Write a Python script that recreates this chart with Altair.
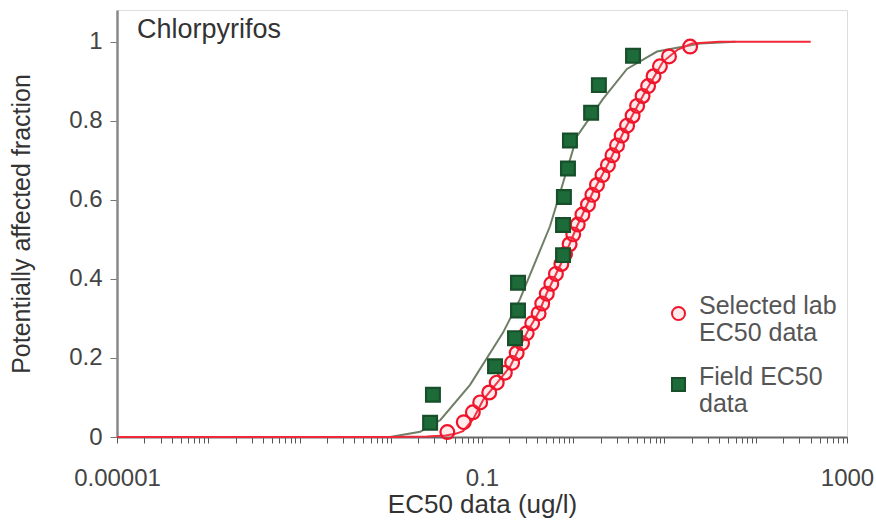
import altair as alt
import pandas as pd
import math

# ---- data ----
series_names = ["lab", "field"]

lab_ec50 = [0.0417, 0.0631, 0.0794, 0.0955, 0.120, 0.145, 0.178, 0.214, 0.240, 0.275,
            0.309, 0.355, 0.417, 0.457, 0.513, 0.575, 0.646, 0.741, 0.813, 0.912,
            1.00, 1.12, 1.26, 1.45, 1.62, 1.82, 2.09, 2.40, 2.69, 3.02,
            3.39, 3.89, 4.47, 5.01, 5.75, 6.61, 7.59, 8.91, 11.2, 19.1]
lab_fraction = [0.0125, 0.0375, 0.0625, 0.0875, 0.1125, 0.1375, 0.1625, 0.1875, 0.2125, 0.2375,
                0.2625, 0.2875, 0.3125, 0.3375, 0.3625, 0.3875, 0.4125, 0.4375, 0.4625, 0.4875,
                0.5125, 0.5375, 0.5625, 0.5875, 0.6125, 0.6375, 0.6625, 0.6875, 0.7125, 0.7375,
                0.7625, 0.7875, 0.8125, 0.8375, 0.8625, 0.8875, 0.9125, 0.9375, 0.9625, 0.9875]

field_ec50 = [0.027, 0.029, 0.139, 0.23, 0.248, 0.248, 0.773, 0.773, 0.79, 0.875,
              0.92, 1.57, 1.91, 4.52]
field_fraction = [0.036, 0.107, 0.179, 0.25, 0.32, 0.39, 0.46, 0.536, 0.607, 0.679,
                  0.75, 0.82, 0.89, 0.964]

lab_fit_x = [0.00001, 0.001, 0.01, 0.025, 0.04, 0.051, 0.062, 0.08, 0.103, 0.15,
             0.203, 0.311, 0.433, 0.515, 0.773, 1.10, 1.64, 2.40, 3.69, 5.81,
             9.6, 14.0, 20.0, 40.0, 400.0]
lab_fit_y = [0, 0, 0, 0.001, 0.004, 0.008, 0.015, 0.045, 0.094, 0.14,
             0.178, 0.264, 0.322, 0.365, 0.449, 0.533, 0.619, 0.69, 0.779, 0.863,
             0.949, 0.98, 0.995, 1.0, 1.0]

field_fit_x = [0.00001, 0.001, 0.0098, 0.021, 0.035, 0.074, 0.17, 0.26, 0.556, 0.68,
               1.10, 2.12, 3.88, 8.28, 24.5, 60.0]
field_fit_y = [0, 0, 0, 0.013, 0.043, 0.132, 0.264, 0.348, 0.533, 0.60,
               0.761, 0.855, 0.931, 0.975, 0.995, 1.0]

x_major_values = [0.00001, 0.1, 1000]
x_major_labels = ["0.00001", "0.1", "1000"]
y_tick_values = [0, 0.2, 0.4, 0.6, 0.8, 1]

# ---- tables ----
points = pd.DataFrame({
    "series": ["lab"] * len(lab_ec50) + ["field"] * len(field_ec50),
    "ec50": lab_ec50 + field_ec50,
    "fraction": lab_fraction + field_fraction,
})
lab_fit = pd.DataFrame({"ec50": lab_fit_x, "fraction": lab_fit_y})
field_fit = pd.DataFrame({"ec50": field_fit_x, "fraction": field_fit_y})

x_ticks = [m * 10.0 ** k for k in range(-5, 3) for m in range(1, 10)] + [1000.0]

label_expr = "''"
for v, lab in zip(reversed(x_major_values), reversed(x_major_labels)):
    label_expr = f"(abs(log(datum.value)/LN10 - ({math.log10(v)})) < 0.01 ? '{lab}' : {label_expr})"

FONT = "Liberation Sans"

x_scale = alt.Scale(type="log", domain=[0.00001, 1000], nice=False)
y_scale = alt.Scale(domain=[0, 1.08], nice=False, zero=True)

x_axis = alt.Axis(values=x_ticks, labelExpr=label_expr, labelOverlap=False, labelFlush=False,
                  grid=False, tickSize=6, tickColor="#555", domainColor="#666", domainWidth=2,
                  labelFontSize=24, labelColor="#444", labelFont=FONT, labelPadding=23,
                  title="EC50 data (ug/l)", titleFont=FONT, titleFontSize=26,
                  titleFontWeight="normal", titleColor="#333", titlePadding=1)
y_axis = alt.Axis(values=y_tick_values, format="~g", grid=False, tickSize=7, tickColor="#777",
                  domainColor="#888", domainWidth=2.5, labelFontSize=24, labelColor="#444",
                  labelFont=FONT, labelPadding=8,
                  title="Potentially affected fraction", titleFont=FONT, titleFontSize=25,
                  titleFontWeight="normal", titleColor="#333", titlePadding=34)

legend = alt.Legend(title=None, orient="none", legendX=549, legendY=291, padding=0,
                    labelExpr="datum.value == 'lab' ? ['Selected lab', 'EC50 data'] : ['Field EC50', 'data']",
                    labelFont=FONT, labelFontSize=25, labelColor="#555", labelBaseline="alphabetic",
                    labelLimit=0, labelOffset=8, symbolSize=170, symbolStrokeWidth=2, rowPadding=18)

base_x = alt.X("ec50:Q", scale=x_scale, axis=x_axis)
base_y = alt.Y("fraction:Q", scale=y_scale, axis=y_axis)

field_line = alt.Chart(field_fit).mark_line(color="#6f7f66", strokeWidth=2).encode(x=base_x, y=base_y)
lab_line = alt.Chart(lab_fit).mark_line(color="#f0283a", strokeWidth=2).encode(x=base_x, y=base_y)

pts = alt.Chart(points).mark_point(filled=True, size=190, strokeWidth=2.2, opacity=1).encode(
    x=base_x,
    y=base_y,
    shape=alt.Shape("series:N", scale=alt.Scale(domain=series_names, range=["circle", "square"]), legend=legend),
    fill=alt.Fill("series:N", scale=alt.Scale(domain=series_names, range=["rgba(255,120,130,0.15)", "#1d6b38"]), legend=legend),
    stroke=alt.Stroke("series:N", scale=alt.Scale(domain=series_names, range=["#f0142a", "#174f2a"]), legend=legend),
    order=alt.Order("ord:Q"),
).transform_calculate(ord="datum.series == 'lab' ? 0 : 1")

chart = alt.layer(field_line, lab_line, pts).properties(
    width=730, height=427,
    autosize=alt.AutoSizeParams(type="none"),
    padding={"left": 117, "top": 10, "right": 29, "bottom": 91},
    title=alt.TitleParams("Chlorpyrifos", anchor="start", frame="group", orient="top", offset=0,
                          dx=20, dy=47, baseline="middle", fontSize=27, fontWeight="normal",
                          font=FONT, color="#333"),
).configure_view(stroke=None).configure(background="white")

chart.save("out.html", embed_options={"renderer": "svg", "actions": False})
